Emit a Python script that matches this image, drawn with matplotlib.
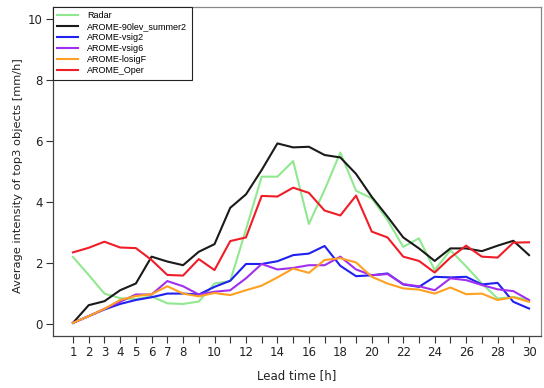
import matplotlib
matplotlib.use("Agg")
import matplotlib.pyplot as plt

hours = list(range(1, 31))
radar = [2.20, 1.61, 1.00, 0.85, 0.82, 0.91, 0.68, 0.66, 0.74, 1.33, 1.41, 3.10, 4.83, 4.83, 5.34,
         3.28, 4.40, 5.62, 4.37, 4.12, 3.41, 2.53, 2.81, 1.77, 2.42, 1.89, 1.33, 0.84, 0.89, 0.79]
lev90 = [0.04, 0.62, 0.75, 1.11, 1.33, 2.21, 2.05, 1.93, 2.37, 2.62, 3.81, 4.25, 5.05, 5.92, 5.79,
         5.81, 5.54, 5.46, 4.92, 4.17, 3.52, 2.84, 2.48, 2.07, 2.48, 2.48, 2.39, 2.57, 2.73, 2.26]
vsig2 = [0.04, 0.26, 0.48, 0.66, 0.79, 0.88, 1.00, 1.00, 0.97, 1.22, 1.42, 1.97, 1.97, 2.06, 2.26,
         2.31, 2.56, 1.91, 1.57, 1.60, 1.66, 1.30, 1.22, 1.55, 1.53, 1.55, 1.30, 1.35, 0.73, 0.51]
vsig6 = [0.04, 0.26, 0.50, 0.73, 0.97, 0.97, 1.41, 1.24, 0.97, 1.06, 1.11, 1.50, 1.97, 1.79, 1.84,
         1.93, 1.93, 2.21, 1.79, 1.60, 1.64, 1.31, 1.24, 1.11, 1.50, 1.44, 1.28, 1.14, 1.08, 0.79]
losigF = [0.04, 0.26, 0.50, 0.79, 0.92, 0.98, 1.24, 1.00, 0.91, 1.02, 0.95, 1.11, 1.26, 1.53, 1.82,
          1.68, 2.10, 2.16, 2.02, 1.55, 1.33, 1.17, 1.13, 1.00, 1.20, 0.98, 1.00, 0.79, 0.88, 0.73]
oper = [2.35, 2.50, 2.70, 2.51, 2.49, 2.10, 1.61, 1.59, 2.13, 1.77, 2.72, 2.84, 4.20, 4.18, 4.47,
        4.30, 3.72, 3.56, 4.21, 3.03, 2.84, 2.21, 2.07, 1.69, 2.18, 2.57, 2.21, 2.18, 2.67, 2.68]

series = [
    ("Radar", radar, "#90e890"),
    ("AROME-90lev_summer2", lev90, "#1a1a1a"),
    ("AROME-vsig2", vsig2, "#2020f0"),
    ("AROME-vsig6", vsig6, "#a030f0"),
    ("AROME-losigF", losigF, "#ffa020"),
    ("AROME_Oper", oper, "#f01c28"),
]

xtick_pos = list(range(1, 31))
xtick_labels = [str(h) if (h <= 8 or h % 2 == 0) else "" for h in xtick_pos]
yticks = [0, 2, 4, 6, 8, 10]

fig = plt.figure(figsize=(5.44, 3.88), dpi=100)
ax = fig.add_axes([0.0974, 0.134, 0.8971, 0.848])

for name, vals, col in series:
    ax.plot(hours, vals, color=col, lw=1.5, label=name)

ax.set_xlim(-0.27, 30.76)
ax.set_ylim(-0.39, 10.39)
ax.set_xticks(xtick_pos)
ax.set_xticklabels(xtick_labels)
ax.set_yticks(yticks)
ax.tick_params(axis="both", direction="out", length=5, width=0.8, colors="#333333",
               labelsize=8.5, labelcolor="#222222", pad=2.5)

for s in ["left", "bottom"]:
    ax.spines[s].set_color("#444444")
    ax.spines[s].set_linewidth(0.9)
for s in ["top", "right"]:
    ax.spines[s].set_color("#888888")
    ax.spines[s].set_linewidth(0.9)

ax.set_xlabel("Lead time [h]", fontsize=8.5, color="#222222", labelpad=7)
ax.set_ylabel("Average intensity of top3 objects [mm/h]", fontsize=8.2, color="#222222", labelpad=1.5)
ax.yaxis.set_label_coords(-0.062, 0.486)

leg = ax.legend(loc="upper left", borderaxespad=0, fancybox=False, framealpha=1,
                edgecolor="#222222", prop={"family": "Liberation Sans", "size": 6.5},
                handlelength=2.3, handletextpad=1.0, labelspacing=0.22, borderpad=0.5)
leg.get_frame().set_linewidth(0.8)

fig.savefig("out.png", dpi=100)
